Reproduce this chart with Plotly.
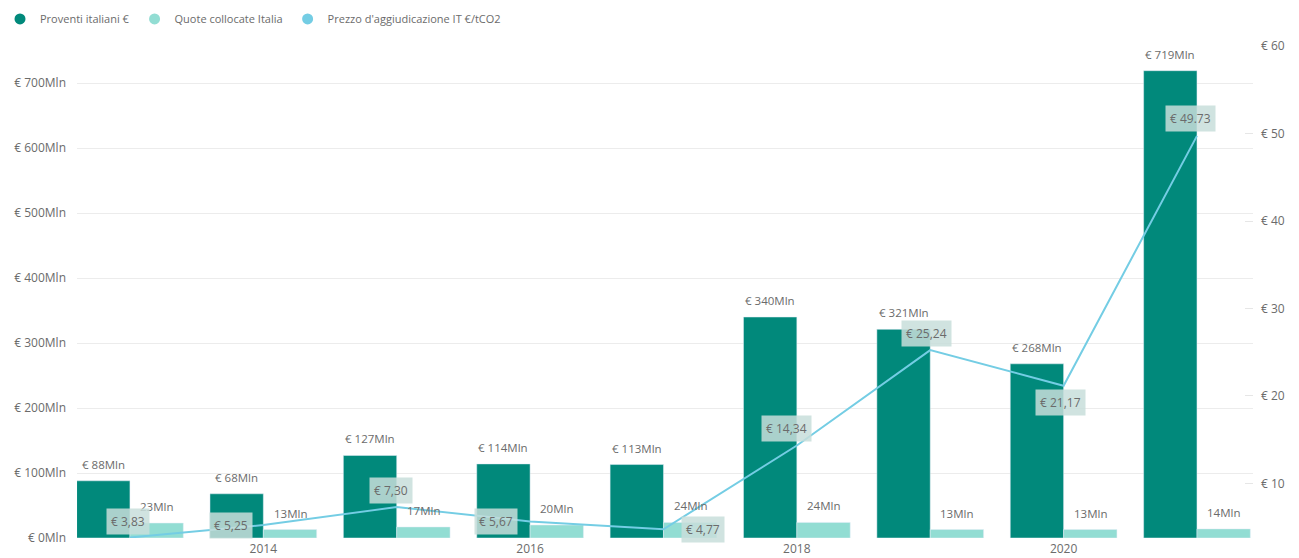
import plotly.graph_objects as go

# Yearly ETS auction figures for Italy
years = [2013, 2014, 2015, 2016, 2017, 2018, 2019, 2020, 2021]
proventi_mln = [88, 68, 127, 114, 113, 340, 321, 268, 719]
quote_mln = [23, 13, 17, 20, 24, 24, 13, 13, 14]
prezzo_eur = [3.83, 5.25, 7.30, 5.67, 4.77, 14.34, 25.24, 21.17, 49.73]
prezzo_labels = ["€ 3,83", "€ 5,25", "€ 7,30", "€ 5,67", "€ 4,77",
                 "€ 14,34", "€ 25,24", "€ 21,17", "€ 49.73"]

left_ticks = [0, 100, 200, 300, 400, 500, 600, 700]
right_ticks = [10, 20, 30, 40, 50, 60]
x_ticks = [2014, 2016, 2018, 2020]

DARK = "#01897b"
LIGHT = "#92ddd3"
LINE = "#74cde4"
TXT = "#6b6b6b"
FONT = "Open Sans"
BAR_W = 0.4  # each bar's share of a year slot (bargap 0.2, two bars)

fig = go.Figure()

fig.add_trace(go.Bar(
    x=years, y=proventi_mln, name="Proventi italiani €",
    marker_color=DARK, showlegend=False,
))
fig.add_trace(go.Bar(
    x=years, y=quote_mln, name="Quote collocate Italia",
    marker_color=LIGHT, showlegend=False,
))
fig.add_trace(go.Scatter(
    x=years, y=prezzo_eur, name="Prezzo d'aggiudicazione IT €/tCO2",
    mode="lines", line=dict(color=LINE, width=2), yaxis="y2",
    showlegend=False, cliponaxis=False,
))

# Circle markers for the legend entries
for name, col in [("Proventi italiani €", DARK),
                  ("Quote collocate Italia", LIGHT),
                  ("Prezzo d'aggiudicazione IT €/tCO2", LINE)]:
    fig.add_trace(go.Scatter(
        x=[None], y=[None], mode="markers", name=name,
        marker=dict(color=col, size=11, symbol="circle"),
    ))

# Value labels floating above each bar
for x, v in zip(years, proventi_mln):
    fig.add_annotation(x=x - BAR_W / 2, y=v, xref="x", yref="y",
                       text=f"€ {v}Mln", showarrow=False,
                       yanchor="bottom", yshift=7,
                       font=dict(color=TXT, size=11.5, family=FONT))
for x, v in zip(years, quote_mln):
    fig.add_annotation(x=x + BAR_W / 2, y=v, xref="x", yref="y",
                       text=f"{v}Mln", showarrow=False,
                       yanchor="bottom", yshift=7,
                       font=dict(color=TXT, size=11.5, family=FONT))

# Price labels: per-point offsets (dx, dy in px)
offsets = [(-2, 16), (-32, 0), (-6, 17), (-34, 0), (40, 0),
           (-10, 17), (-4, 17), (-3, -17), (-6, 17)]
for x, y, lab, (dx, dy) in zip(years, prezzo_eur, prezzo_labels, offsets):
    fig.add_annotation(
        x=x, y=y, xref="x", yref="y2", text=lab, showarrow=False,
        xshift=dx, yshift=dy,
        font=dict(color=TXT, size=12, family=FONT),
        bgcolor="rgba(200,222,218,0.85)", borderpad=4,
    )

fig.update_layout(
    width=1299, height=558,
    margin=dict(l=77, r=46, t=46, b=20),
    paper_bgcolor="white", plot_bgcolor="white",
    barmode="group", bargap=0.2, bargroupgap=0,
    font=dict(family=FONT, color=TXT, size=11),
    legend=dict(orientation="h", xref="container", yref="container",
                x=0.0, y=0.992, xanchor="left", yanchor="top",
                font=dict(size=11, color=TXT), itemwidth=30,
                traceorder="normal"),
    xaxis=dict(range=[2012.603, 2021.42], tickvals=x_ticks,
               ticktext=[str(t) for t in x_ticks], showgrid=False,
               zeroline=False, showline=False, ticklabelstandoff=2,
               automargin=False,
               tickfont=dict(size=12, color=TXT)),
    yaxis=dict(range=[0, 757], tickvals=left_ticks,
               ticktext=[f"€ {t}Mln" for t in left_ticks],
               showgrid=True, gridcolor="#ececec", gridwidth=1,
               zeroline=False, showline=False, ticklabelstandoff=10,
               automargin=False,
               tickfont=dict(size=12, color=TXT)),
    yaxis2=dict(range=[3.77, 60], overlaying="y", side="right",
                tickvals=right_ticks,
                ticktext=[f"€ {t}" for t in right_ticks],
                showgrid=False, zeroline=False, showline=False,
                ticks="inside", ticklen=8, tickcolor="#e6e6e6",
                ticklabelstandoff=7, automargin=False,
                tickfont=dict(size=12, color=TXT)),
)

fig.write_html("out.html")
